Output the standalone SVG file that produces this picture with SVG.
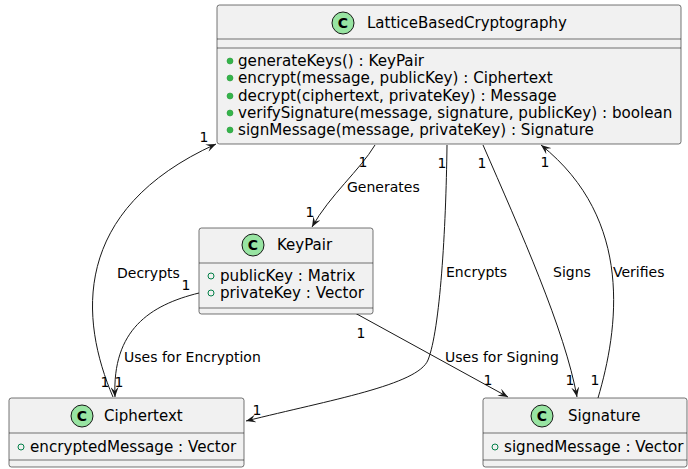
<svg xmlns="http://www.w3.org/2000/svg" width="688" height="469" viewBox="0 0 688 469">
<style>
.box{fill:#F1F1F1;stroke:#181818;stroke-width:0.6}
.sep{stroke:#181818;stroke-width:0.6}
.icon{fill:#98E4A2;stroke:#181818;stroke-width:1}
.ic{font-family:"DejaVu Sans",sans-serif;font-size:14px;font-weight:bold;fill:#000;text-anchor:middle}
.name{font-family:"DejaVu Sans",sans-serif;font-size:15px;fill:#000}
.mem{font-family:"DejaVu Sans",sans-serif;font-size:15.15px;fill:#000}
.meth{fill:#34B54A;stroke:#2A9A3C;stroke-width:0.6}
.attr{fill:none;stroke:#038048;stroke-width:1}
.lbl{font-family:"DejaVu Sans",sans-serif;font-size:14px;fill:#000}
.card{font-family:"DejaVu Sans",sans-serif;font-size:14px;fill:#000;text-anchor:middle}
.edge{fill:none;stroke:#181818;stroke-width:1}
</style>
<defs>
<marker id="arr" viewBox="0 0 10 8" refX="10" refY="4" markerWidth="10" markerHeight="8" markerUnits="userSpaceOnUse" orient="auto">
<path d="M0,0 L10,4 L0,8 L4,4 Z" fill="#181818"/>
</marker>
</defs>

<g id="connectors">
<path class="edge" d="M113,397 C80,320 70,210 216,144" marker-end="url(#arr)"/>
<path class="edge" d="M375,145 C360,170 330,195 312,227" marker-end="url(#arr)"/>
<path class="edge" d="M447,145 C446,230 440,330 428,360 C418,385 330,400 246,421" marker-end="url(#arr)"/>
<path class="edge" d="M483,145 C520,230 565,330 577,397" marker-end="url(#arr)"/>
<path class="edge" d="M598,398 C618,330 635,220 541,145" marker-end="url(#arr)"/>
<path class="edge" d="M355,313 L508,397" marker-end="url(#arr)"/>
<path class="edge" d="M199,293 C150,305 112,330 115,397" marker-end="url(#arr)"/>
<text class="lbl" x="117" y="278">Decrypts</text>
<text class="lbl" x="347" y="192">Generates</text>
<text class="lbl" x="446" y="277">Encrypts</text>
<text class="lbl" x="553" y="277">Signs</text>
<text class="lbl" x="613" y="277">Verifies</text>
<text class="lbl" x="445" y="362">Uses for Signing</text>
<text class="lbl" x="124" y="362">Uses for Encryption</text>
<text class="card" x="204" y="142">1</text>
<text class="card" x="105" y="387">1</text>
<text class="card" x="119" y="387">1</text>
<text class="card" x="186" y="290">1</text>
<text class="card" x="363" y="167">1</text>
<text class="card" x="310" y="217">1</text>
<text class="card" x="442" y="168">1</text>
<text class="card" x="257" y="415">1</text>
<text class="card" x="482" y="168">1</text>
<text class="card" x="570" y="385">1</text>
<text class="card" x="545" y="167">1</text>
<text class="card" x="595" y="385">1</text>
<text class="card" x="361" y="338">1</text>
<text class="card" x="488" y="385">1</text>
</g>

<g id="LatticeBasedCryptography">
<rect class="box" x="217" y="5" width="464" height="139" rx="2.5"/>
<line class="sep" x1="217" y1="39" x2="681" y2="39"/>
<line class="sep" x1="217" y1="48" x2="681" y2="48"/>
<circle class="icon" cx="343" cy="23" r="11"/>
<text class="ic" x="343" y="28">C</text>
<text class="name" x="367" y="28">LatticeBasedCryptography</text>
<circle class="meth" cx="230" cy="61" r="3"/>
<circle class="meth" cx="230" cy="78" r="3"/>
<circle class="meth" cx="230" cy="96" r="3"/>
<circle class="meth" cx="230" cy="113" r="3"/>
<circle class="meth" cx="230" cy="130" r="3"/>
<text class="mem" x="238" y="66">generateKeys() : KeyPair</text>
<text class="mem" x="238" y="83">encrypt(message, publicKey) : Ciphertext</text>
<text class="mem" x="238" y="101">decrypt(ciphertext, privateKey) : Message</text>
<text class="mem" x="238" y="118">verifySignature(message, signature, publicKey) : boolean</text>
<text class="mem" x="238" y="135">signMessage(message, privateKey) : Signature</text>
</g>

<g id="KeyPair">
<rect class="box" x="199" y="228" width="174" height="86" rx="2.5"/>
<line class="sep" x1="199" y1="263" x2="373" y2="263"/>
<line class="sep" x1="199" y1="308" x2="373" y2="308"/>
<circle class="icon" cx="253" cy="245" r="11"/>
<text class="ic" x="253" y="250">C</text>
<text class="name" x="277" y="250">KeyPair</text>
<circle class="attr" cx="211" cy="276" r="3"/>
<circle class="attr" cx="211" cy="293" r="3"/>
<text class="mem" x="220" y="281">publicKey : Matrix</text>
<text class="mem" x="220" y="298">privateKey : Vector</text>
</g>

<g id="Ciphertext">
<rect class="box" x="9" y="398" width="235" height="69" rx="2.5"/>
<line class="sep" x1="9" y1="433" x2="244" y2="433"/>
<line class="sep" x1="9" y1="460" x2="244" y2="460"/>
<circle class="icon" cx="82" cy="416" r="11"/>
<text class="ic" x="82" y="421">C</text>
<text class="name" x="104" y="421">Ciphertext</text>
<circle class="attr" cx="21" cy="447" r="3"/>
<text class="mem" x="30" y="452">encryptedMessage : Vector</text>
</g>

<g id="Signature">
<rect class="box" x="483" y="398" width="204" height="69" rx="2.5"/>
<line class="sep" x1="483" y1="433" x2="687" y2="433"/>
<line class="sep" x1="483" y1="460" x2="687" y2="460"/>
<circle class="icon" cx="542" cy="416" r="11"/>
<text class="ic" x="542" y="421">C</text>
<text class="name" x="568" y="421">Signature</text>
<circle class="attr" cx="495" cy="447" r="3"/>
<text class="mem" x="504" y="452">signedMessage : Vector</text>
</g>
</svg>
